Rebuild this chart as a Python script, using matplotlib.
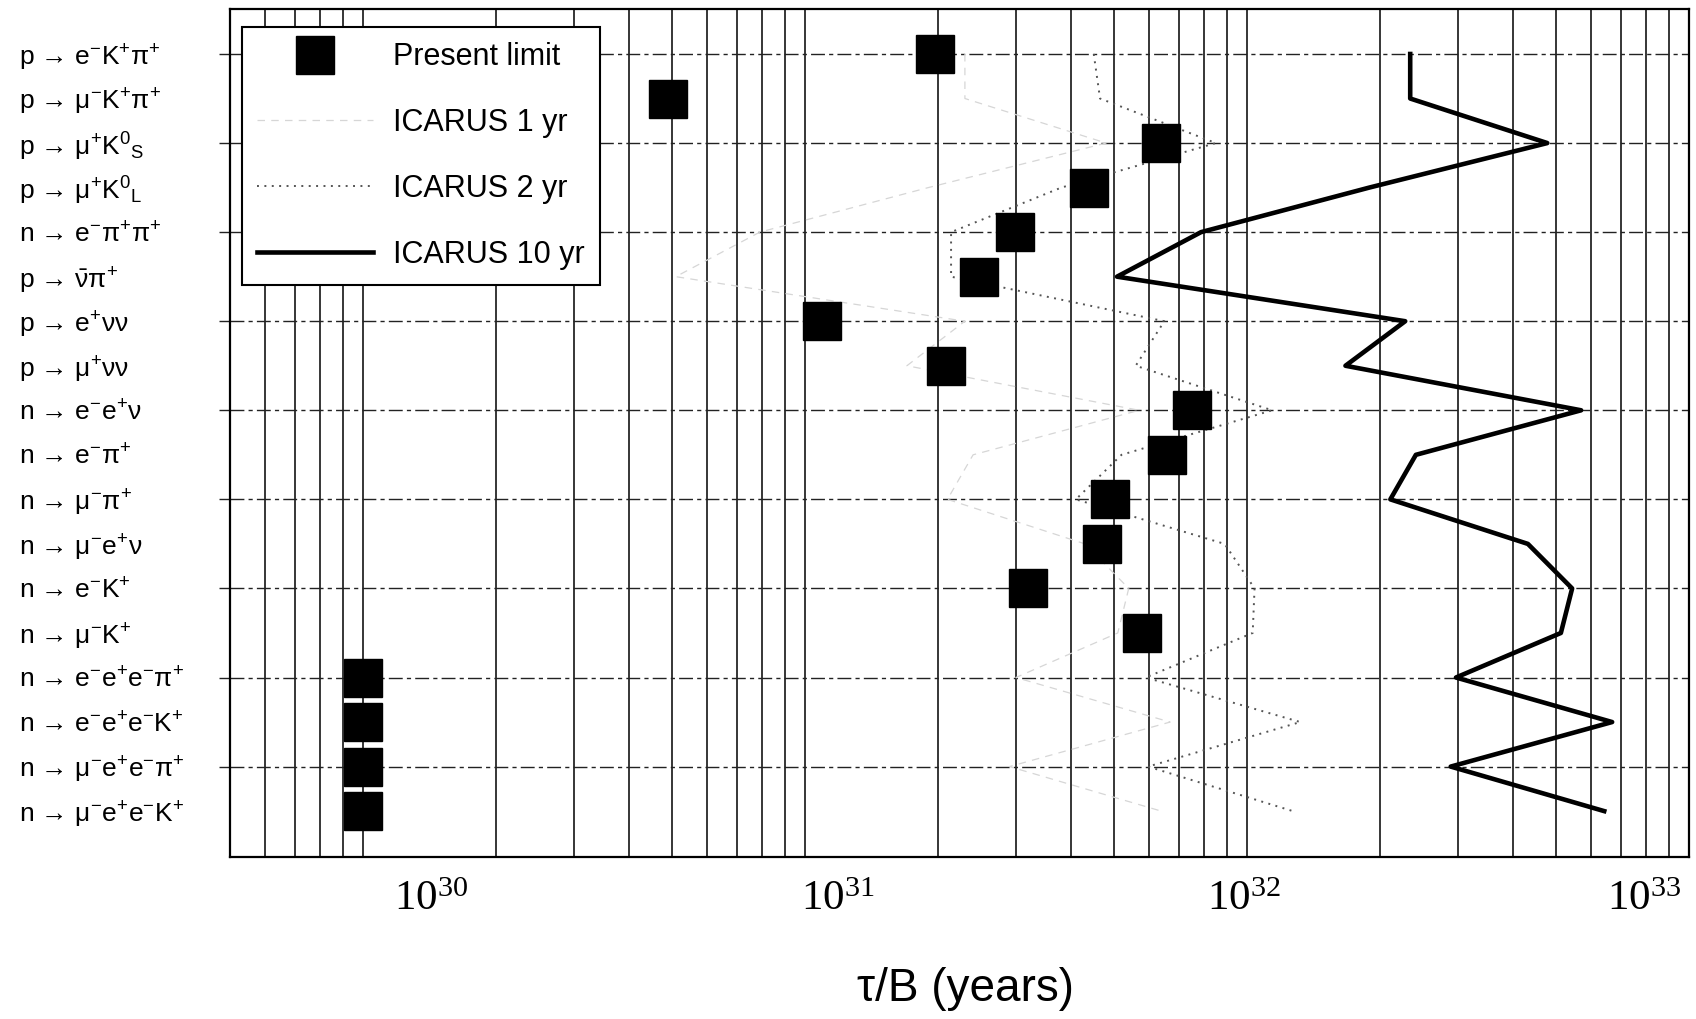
import matplotlib
matplotlib.use('Agg')
import matplotlib.pyplot as plt
import matplotlib.transforms as mtransforms
from matplotlib.ticker import FixedLocator, NullFormatter, LogLocator
import numpy as np

plt.rcParams['font.family'] = ['Liberation Sans', 'DejaVu Sans']
plt.rcParams['mathtext.fontset'] = 'custom'
plt.rcParams['mathtext.rm'] = 'Liberation Sans'
plt.rcParams['mathtext.it'] = 'Liberation Sans:italic'
plt.rcParams['mathtext.default'] = 'regular'

# ---------------- data ----------------
decays = [
    'p → e$^{-}$K$^{+}$π$^{+}$',
    'p → μ$^{-}$K$^{+}$π$^{+}$',
    'p → μ$^{+}$K$^{0}$$_{S}$',
    'p → μ$^{+}$K$^{0}$$_{L}$',
    'n → e$^{-}$π$^{+}$π$^{+}$',
    'p → $\\bar{ν}$π$^{+}$',
    'p → e$^{+}$νν',
    'p → μ$^{+}$νν',
    'n → e$^{-}$e$^{+}$ν',
    'n → e$^{-}$π$^{+}$',
    'n → μ$^{-}$π$^{+}$',
    'n → μ$^{-}$e$^{+}$ν',
    'n → e$^{-}$K$^{+}$',
    'n → μ$^{-}$K$^{+}$',
    'n → e$^{-}$e$^{+}$e$^{-}$π$^{+}$',
    'n → e$^{-}$e$^{+}$e$^{-}$K$^{+}$',
    'n → μ$^{-}$e$^{+}$e$^{-}$π$^{+}$',
    'n → μ$^{-}$e$^{+}$e$^{-}$K$^{+}$',
]

present_limit = [1.97e31, 4.9e30, 6.4e31, 4.4e31, 2.98e31, 2.47e31, 1.09e31, 2.08e31,
                 7.5e31, 6.6e31, 4.9e31, 4.7e31, 3.2e31, 5.8e31,
                 1.0e30, 1.0e30, 1.0e30, 1.0e30]

icarus_1yr = [2.3e31, 2.3e31, 4.8e31, 1.9e31, 7.9e30, 5.1e30, 2.3e31, 1.7e31, 5.7e31,
              2.4e31, 2.1e31, 4.3e31, 5.4e31, 5.1e31, 3.0e31, 6.7e31, 2.9e31, 6.4e31]

icarus_2yr = [4.5e31, 4.65e31, 8.5e31, 3.8e31, 2.14e31, 2.14e31, 6.5e31, 5.6e31, 1.14e32,
              5.2e31, 4.1e31, 8.9e31, 1.04e32, 1.03e32, 5.9e31, 1.32e32, 5.97e31, 1.27e32]

icarus_10yr = [2.34e32, 2.34e32, 4.78e32, 1.89e32, 7.87e31, 5.08e31, 2.28e32, 1.67e32, 5.70e32,
               2.41e32, 2.11e32, 4.32e32, 5.44e32, 5.13e32, 2.97e32, 6.70e32, 2.89e32, 6.43e32]

x_ticks = [1e30, 1e31, 1e32, 1e33]
x_ticklabels = ['$10^{30}$', '$10^{31}$', '$10^{32}$', '$10^{33}$']
x_label = 'τ/B (years)'

# ---------------- figure ----------------
W, H = 1696, 1019
fig = plt.figure(figsize=(W / 100, H / 100), dpi=100)
ax = fig.add_axes([230 / W, 1 - 857 / H, (1689 - 230) / W, (857 - 9) / H])
ax.set_xscale('log')
ax.set_xlim(5e29, 1e33)
ax.set_ylim(18.03, -1.01)

rows = np.arange(len(decays))

ax.plot(present_limit, rows, linestyle='none', marker='s', ms=27.5, color='black',
        label='Present limit', zorder=5)
ax.plot(icarus_1yr, rows, color='#d6d6d6', lw=0.9, linestyle=(0, (6, 5)),
        label='ICARUS 1 yr', zorder=3)
ax.plot(icarus_2yr, rows, color='#555555', lw=1.4, linestyle=(0, (1, 2.8)),
        label='ICARUS 2 yr', zorder=4)
ax.plot(icarus_10yr, rows, color='black', lw=3.3, label='ICARUS 10 yr', zorder=6)

# grid
ax.xaxis.set_major_locator(FixedLocator(x_ticks))
ax.xaxis.set_minor_locator(LogLocator(base=10, subs=np.arange(2, 10), numticks=40))
ax.xaxis.set_minor_formatter(NullFormatter())
ax.grid(True, which='both', axis='x', color='black', lw=1.1)
ax.set_xticklabels(x_ticklabels)

ax.yaxis.remove_overlapping_locs = False
ax.yaxis.set_major_locator(FixedLocator(rows))
ax.set_yticklabels(decays)
ax.yaxis.set_minor_locator(FixedLocator(rows[::2]))
ax.grid(True, which='minor', axis='y', color='#222222', lw=1.0, linestyle=(0, (10, 3, 3, 3)))
ax.grid(False, which='major', axis='y')

ax.tick_params(axis='x', which='both', length=0, pad=17, labelsize=31)
ax.tick_params(axis='y', which='major', length=0, pad=152, labelsize=19)
ax.tick_params(axis='y', which='minor', length=8, width=1, color='#222222')

for lab in ax.get_xticklabels():
    lab.set_fontfamily('Liberation Serif')
for lab in ax.get_yticklabels():
    lab.set_ha('left')

dxs = [68, 33, -3, -45]
for lab, dx in zip(ax.get_xticklabels(), dxs):
    lab.set_transform(lab.get_transform() +
                      mtransforms.ScaledTranslation(dx / 100, 0, fig.dpi_scale_trans))

for sp in ax.spines.values():
    sp.set_linewidth(1.6)
    sp.set_color('black')

ax.set_xlabel(x_label, fontsize=33)
ax.xaxis.set_label_coords(0.504, -0.130)

leg = ax.legend(loc='upper left', bbox_to_anchor=(0.0082, 0.9788), borderaxespad=0,
                frameon=True, fancybox=False, framealpha=1, edgecolor='black',
                handlelength=3.8, handletextpad=0.65, labelspacing=1.17, borderpad=0.5,
                numpoints=1, prop={'family': 'Liberation Sans', 'size': 22})
leg.get_frame().set_linewidth(1.5)
leg.set_zorder(10)

fig.savefig('out.png', dpi=100)
